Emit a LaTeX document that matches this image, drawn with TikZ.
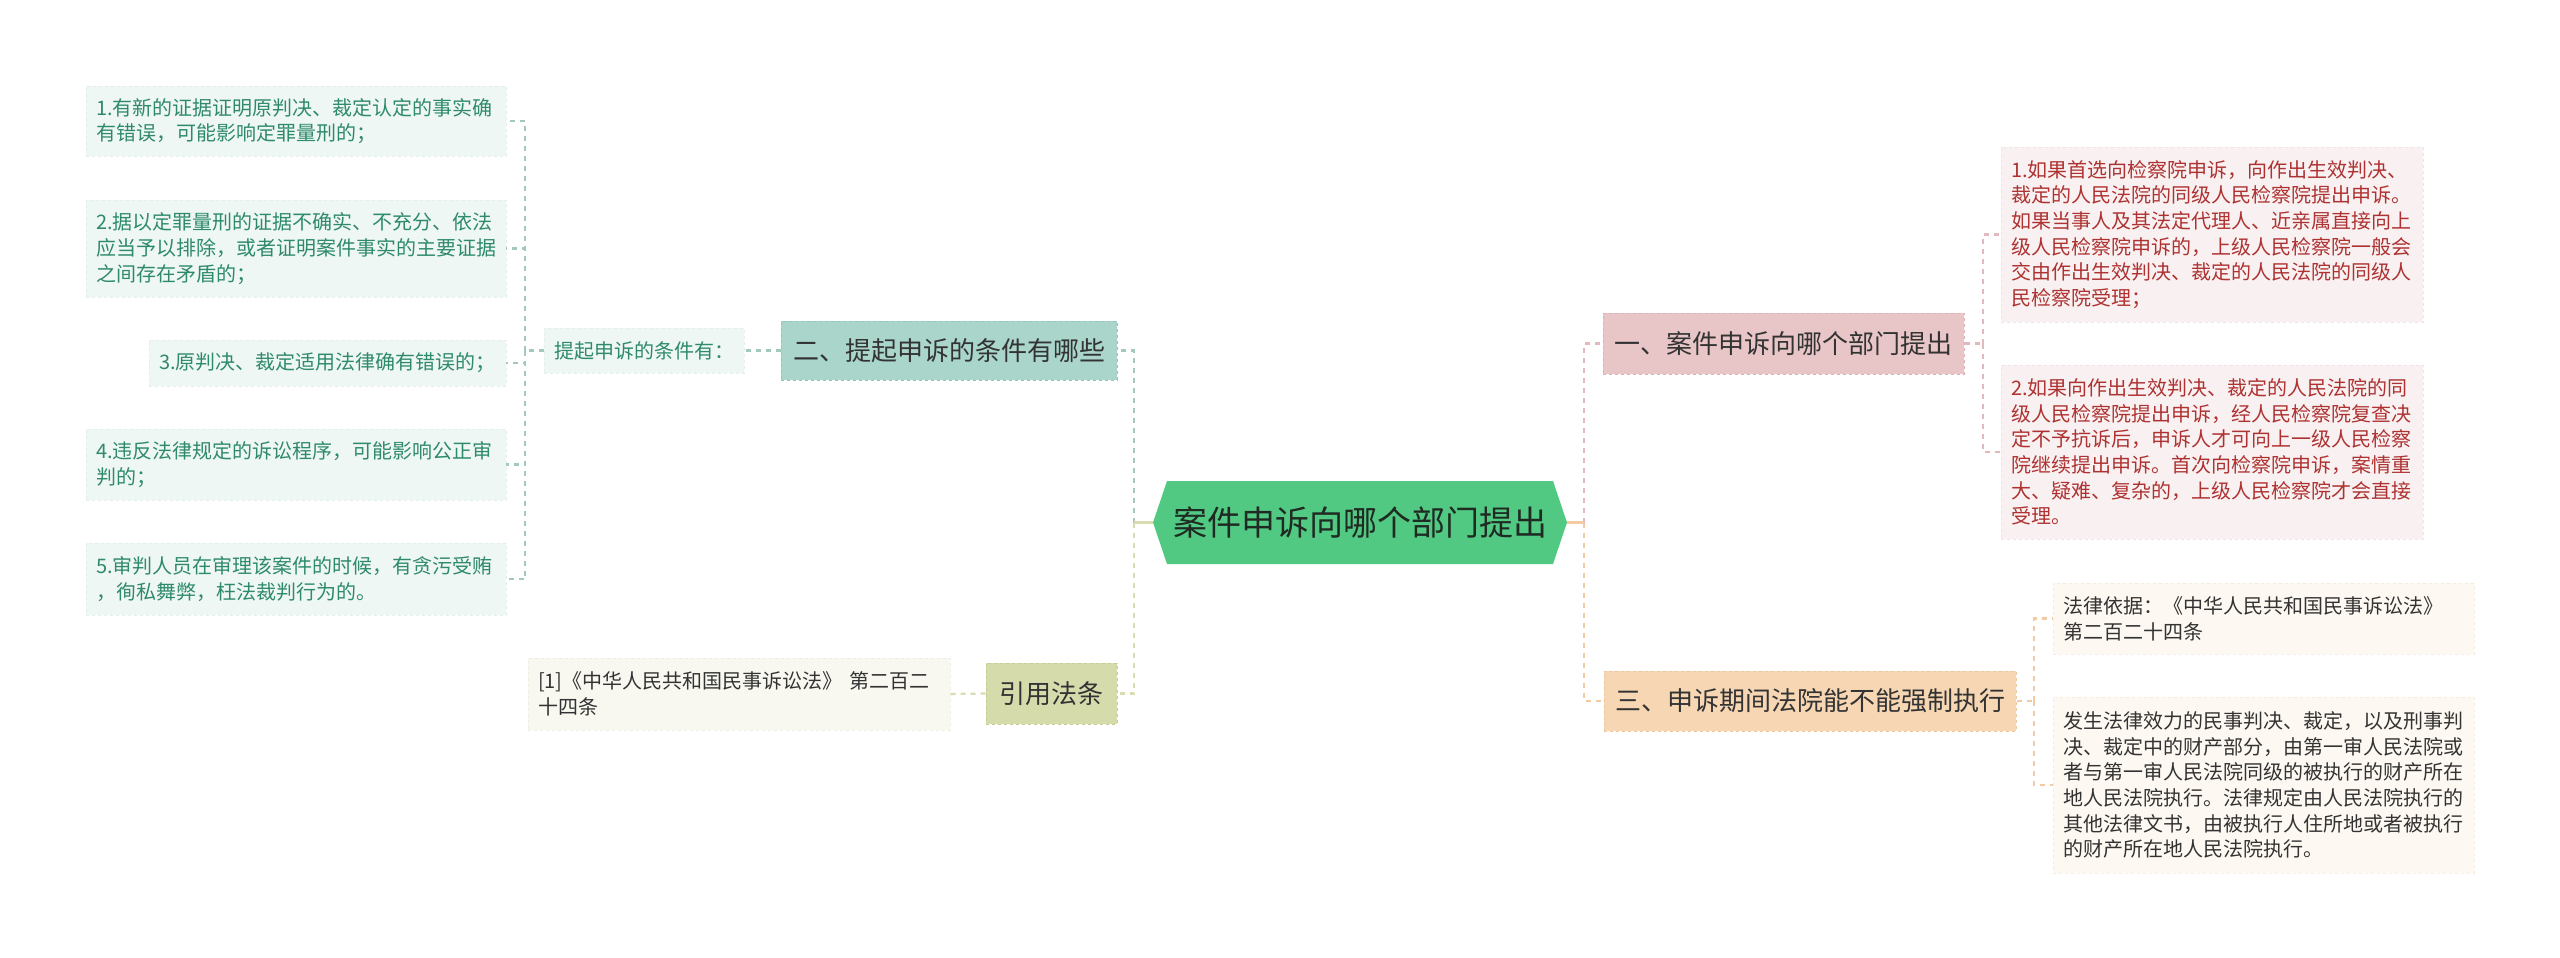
\documentclass[tikz,border=0pt]{standalone}
\usepackage{fontspec}
\setmainfont{Noto Sans CJK SC}
\definecolor{cgreen}{HTML}{52C982}
\definecolor{ctext}{HTML}{1E2A22}
\definecolor{tealbox}{HTML}{A9D5CB}
\definecolor{tealbord}{HTML}{8FC6BA}
\definecolor{tealline}{HTML}{A3C9BF}
\definecolor{leafG}{HTML}{EEF7F4}
\definecolor{leafGb}{HTML}{E2EFEB}
\definecolor{leafGtext}{HTML}{2F8A6C}
\definecolor{olivebox}{HTML}{D6DBAC}
\definecolor{olivebord}{HTML}{C6CC95}
\definecolor{oliveline}{HTML}{D9DCAE}
\definecolor{refbox}{HTML}{F8F8F1}
\definecolor{refbord}{HTML}{EEEEE4}
\definecolor{pinkbox}{HTML}{E8C5C7}
\definecolor{pinkbord}{HTML}{DDB0B3}
\definecolor{pinkline}{HTML}{E3B9BE}
\definecolor{leafR}{HTML}{F9F1F1}
\definecolor{leafRb}{HTML}{F0E4E4}
\definecolor{leafRtext}{HTML}{AE3232}
\definecolor{orbox}{HTML}{F6D6B3}
\definecolor{orbord}{HTML}{EDC79D}
\definecolor{orline}{HTML}{F2CBA5}
\definecolor{leafO}{HTML}{FDF8F1}
\definecolor{leafOb}{HTML}{F6EDE0}
\definecolor{darktext}{HTML}{333333}
\tikzset{
  leafbase/.style={align=left, inner xsep=10pt, inner ysep=0pt, dashed, line width=0.8pt,
    font=\fontsize{20pt}{25.7pt}\selectfont},
  leafL/.style={leafbase, fill=leafG, draw=leafGb, text=leafGtext},
  leafR/.style={leafbase, fill=leafR, draw=leafRb, text=leafRtext},
  leafO/.style={leafbase, fill=leafO, draw=leafOb, text=darktext},
  leafRef/.style={leafbase, fill=refbox, draw=refbord, text=darktext},
  mainbox/.style={align=center, inner sep=0pt, dashed, line width=1pt, text=darktext,
    font=\fontsize{26pt}{30pt}\selectfont},
  conn/.style={line width=2.2pt, dash pattern=on 5pt off 5pt},
  solidconn/.style={line width=2.2pt}
}
\begin{document}
\begin{tikzpicture}[x=1pt,y=-1pt]
\useasboundingbox (0,0) rectangle (2560,958);
\fill[white] (0,0) rectangle (2560,958);

% central
\fill[cgreen] (1153,522.5) -- (1167,481) -- (1553,481) -- (1567,522.5) -- (1553,564) -- (1167,564) -- cycle;
\node[minimum width=414pt, minimum height=83pt, inner sep=0pt, text=ctext,
  font=\fontsize{34pt}{40pt}\selectfont] (cen) at (1360,522.5) {案件申诉向哪个部门提出};

% left branch
\node[mainbox, fill=tealbox, draw=tealbord, minimum width=336pt, minimum height=59pt] (b2) at (949,350.5) {二、提起申诉的条件有哪些};
\node[leafL, text width=180pt, minimum height=45pt] (cond) at (644,350.5) {提起申诉的条件有：};
\node[leafL, text width=400pt, minimum height=70pt] (l1) at (296,121) {1.有新的证据证明原判决、裁定认定的事实确\\有错误，可能影响定罪量刑的；};
\node[leafL, text width=400pt, minimum height=97pt] (l2) at (296,248.5) {2.据以定罪量刑的证据不确实、不充分、依法\\应当予以排除，或者证明案件事实的主要证据\\之间存在矛盾的；};
\node[leafL, text width=337pt, minimum height=46pt] (l3) at (327.5,363) {3.原判决、裁定适用法律确有错误的；};
\node[leafL, text width=400pt, minimum height=71pt] (l4) at (296,464.5) {4.违反法律规定的诉讼程序，可能影响公正审\\判的；};
\node[leafL, text width=400pt, minimum height=72pt] (l5) at (296,579) {5.审判人员在审理该案件的时候，有贪污受贿\\，徇私舞弊，枉法裁判行为的。};

\node[mainbox, fill=olivebox, draw=olivebord, minimum width=131pt, minimum height=61pt] (b4) at (1051.5,693.5) {引用法条};
\node[leafRef, text width=402pt, minimum height=72pt] (ref) at (739,694) {[1]《中华人民共和国民事诉讼法》 第二百二\\十四条};

% right branch
\node[mainbox, fill=pinkbox, draw=pinkbord, minimum width=361pt, minimum height=61pt] (r1) at (1783.5,343.5) {一、案件申诉向哪个部门提出};
\node[leafR, text width=402pt, minimum height=175pt] (rc1) at (2212,234.5) {1.如果首选向检察院申诉，向作出生效判决、\\裁定的人民法院的同级人民检察院提出申诉。\\如果当事人及其法定代理人、近亲属直接向上\\级人民检察院申诉的，上级人民检察院一般会\\交由作出生效判决、裁定的人民法院的同级人\\民检察院受理；};
\node[leafR, text width=402pt, minimum height=174pt] (rc2) at (2212,452) {2.如果向作出生效判决、裁定的人民法院的同\\级人民检察院提出申诉，经人民检察院复查决\\定不予抗诉后，申诉人才可向上一级人民检察\\院继续提出申诉。首次向检察院申诉，案情重\\大、疑难、复杂的，上级人民检察院才会直接\\受理。};

\node[mainbox, fill=orbox, draw=orbord, minimum width=412pt, minimum height=60pt] (r3) at (1810,701) {三、申诉期间法院能不能强制执行};
\node[leafO, text width=401pt, minimum height=71pt] (rc3) at (2263.5,618.5) {法律依据：《中华人民共和国民事诉讼法》\\第二百二十四条};
\node[leafO, text width=401pt, minimum height=176pt] (rc4) at (2263.5,785) {发生法律效力的民事判决、裁定，以及刑事判\\决、裁定中的财产部分，由第一审人民法院或\\者与第一审人民法院同级的被执行的财产所在\\地人民法院执行。法律规定由人民法院执行的\\其他法律文书，由被执行人住所地或者被执行\\的财产所在地人民法院执行。};

% junction coordinates
\coordinate (jl) at (1134,522.5);
\coordinate (jr) at (1584,522.5);
\coordinate (jc) at (525,350.5);
\coordinate (j1) at (1983,343.5);
\coordinate (j3) at (2034,701);

% connectors
\draw[conn, draw=tealline] (jl) |- (b2.east);
\draw[conn, draw=oliveline] (jl) |- (b4.east);
\draw[solidconn, draw=oliveline] (cen.west) -- (jl);
\draw[conn, draw=tealline] (b2.west) -- (cond.east);
\draw[conn, draw=tealline] (cond.west) -- (jc);
\draw[conn, draw=tealline] (jc) |- (l1.east);
\draw[conn, draw=tealline] (jc) |- (l2.east);
\draw[conn, draw=tealline] (jc) |- (l3.east);
\draw[conn, draw=tealline] (jc) |- (l4.east);
\draw[conn, draw=tealline] (jc) |- (l5.east);
\draw[conn, draw=oliveline] (b4.west) -- (ref.east);

\draw[conn, draw=pinkline] (jr) |- (r1.west);
\draw[conn, draw=orline] (jr) |- (r3.west);
\draw[solidconn, draw=orline] (cen.east) -- (jr);
\draw[conn, draw=pinkline] (r1.east) -- (j1);
\draw[conn, draw=pinkline] (j1) |- (rc1.west);
\draw[conn, draw=pinkline] (j1) |- (rc2.west);
\draw[conn, draw=orline] (r3.east) -- (j3);
\draw[conn, draw=orline] (j3) |- (rc3.west);
\draw[conn, draw=orline] (j3) |- (rc4.west);
\end{tikzpicture}
\end{document}
